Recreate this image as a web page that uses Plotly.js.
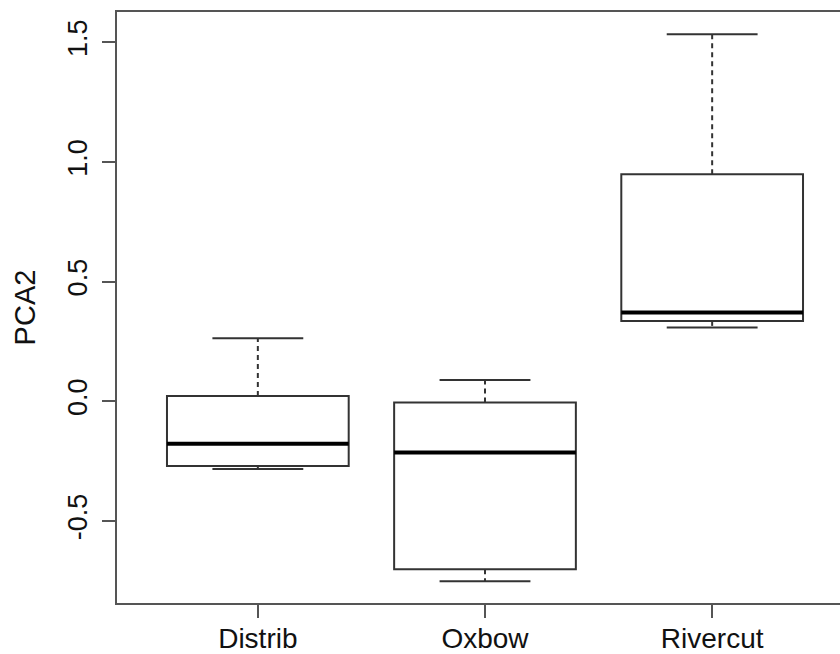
<!DOCTYPE html>
<html><head><meta charset="utf-8">
<script src="https://cdn.plot.ly/plotly-3.0.1.min.js"></script>
<style>html,body{margin:0;padding:0;overflow:hidden;background:#fff}</style>
</head><body><div id="chart"></div>
<script>
const categories = ["Distrib", "Oxbow", "Rivercut"];
const lowerWhisker = [-0.283, -0.752, 0.308];
const q1Values = [-0.270, -0.702, 0.336];
const medianValues = [-0.177, -0.214, 0.371];
const q3Values = [0.022, -0.005, 0.949];
const upperWhisker = [0.263, 0.089, 1.534];
const yTickValues = [-0.5, 0, 0.5, 1, 1.5];
const yTickLabels = ["-0.5", "0.0", "0.5", "1.0", "1.5"];
const yTitle = "PCA2";

const pos = categories.map((c, i) => i + 1);
const boxW = 0.8, capW = 0.4;

function segs(fn) {
  const xs = [], ys = [];
  pos.forEach((p, i) => { const s = fn(p, i); xs.push(s[0], s[1], null); ys.push(s[2], s[3], null); });
  return {x: xs, y: ys};
}

const lineCol = '#333';
const boxTrace = {
  type: 'box', x: pos, q1: q1Values, median: medianValues, q3: q3Values,
  lowerfence: q1Values, upperfence: q3Values, width: boxW, whiskerwidth: 0,
  fillcolor: 'rgba(255,255,255,0)', line: {color: lineCol, width: 2},
  boxpoints: false, hoverinfo: 'skip', showlegend: false
};
const upW = segs((p, i) => [p, p, q3Values[i], upperWhisker[i]]);
const loW = segs((p, i) => [p, p, q1Values[i], lowerWhisker[i]]);
const whiskers = {type: 'scatter', mode: 'lines', x: upW.x.concat(loW.x), y: upW.y.concat(loW.y),
  line: {color: lineCol, width: 2, dash: '5px,4px'}, showlegend: false, hoverinfo: 'skip'};
const capU = segs((p, i) => [p - capW / 2, p + capW / 2, upperWhisker[i], upperWhisker[i]]);
const capL = segs((p, i) => [p - capW / 2, p + capW / 2, lowerWhisker[i], lowerWhisker[i]]);
const caps = {type: 'scatter', mode: 'lines', x: capU.x.concat(capL.x), y: capU.y.concat(capL.y),
  line: {color: lineCol, width: 2}, showlegend: false, hoverinfo: 'skip'};
const med = segs((p, i) => [p - boxW / 2, p + boxW / 2, medianValues[i], medianValues[i]]);
const medians = {type: 'scatter', mode: 'lines', x: med.x, y: med.y,
  line: {color: '#000', width: 4}, showlegend: false, hoverinfo: 'skip'};

const fam = 'Liberation Sans, Arial, sans-serif';
const xFont = {family: fam, size: 28, color: '#111'};
const yFont = {family: fam, size: 27, color: '#111'};
const titleFont = {family: fam, size: 29, color: '#111'};
const layout = {
  width: 870, height: 654,
  margin: {l: 117, r: 17, t: 12, b: 51},
  paper_bgcolor: '#fff', plot_bgcolor: '#fff',
  font: yFont, showlegend: false,
  xaxis: {
    range: [0.38, 3.62], tickmode: 'array', tickvals: pos, ticktext: categories,
    showgrid: false, zeroline: false, showline: true, mirror: true,
    linecolor: '#555', linewidth: 2, ticks: 'outside', ticklen: 13, tickwidth: 2, tickcolor: '#555',
    tickfont: xFont, ticklabelstandoff: -4
  },
  yaxis: {
    range: [-0.843, 1.627], tickmode: 'array', tickvals: yTickValues, ticktext: yTickLabels,
    showgrid: false, zeroline: false, showline: true, mirror: true,
    linecolor: '#555', linewidth: 2, ticks: 'outside', ticklen: 13, tickwidth: 2, tickcolor: '#555',
    tickangle: -90, tickfont: yFont, ticklabelstandoff: 4,
    title: {text: yTitle, font: titleFont, standoff: 19}
  }
};
Plotly.newPlot('chart', [boxTrace, whiskers, caps, medians], layout, {displayModeBar: false, staticPlot: true});
</script></body></html>
